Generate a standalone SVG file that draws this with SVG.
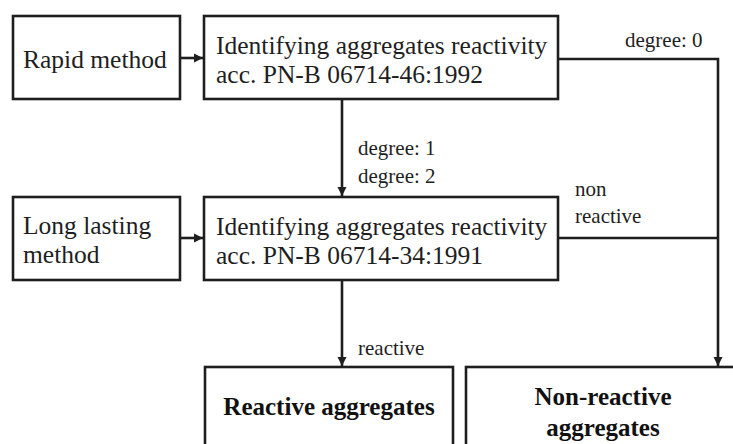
<svg xmlns="http://www.w3.org/2000/svg" width="733" height="444" viewBox="0 0 733 444">
<style>
.box{fill:#fff;stroke:#1e1e1e;stroke-width:2.6}
text{font-family:'Liberation Serif','Times New Roman','DejaVu Serif',serif}
.t{font-size:25.5px;fill:#1e1e1e}
.b{font-size:25px;font-weight:bold;fill:#111}
.s{font-size:21px;fill:#1e1e1e}
.ln{fill:none;stroke:#1e1e1e;stroke-width:2.6}
</style>
<defs>
<marker id="ah" viewBox="0 0 10 10" refX="10" refY="5" markerWidth="3.6" markerHeight="3.6" orient="auto" markerUnits="strokeWidth">
<path d="M0,0 L10,5 L0,10 Z" fill="#1e1e1e"/>
</marker>
</defs>
<rect width="733" height="444" fill="#fff"/>
<g id="connectors">
<line class="ln" x1="180" y1="58" x2="203" y2="58" marker-end="url(#ah)"/>
<line class="ln" x1="180" y1="238" x2="203" y2="238" marker-end="url(#ah)"/>
<line class="ln" x1="342" y1="99" x2="342" y2="196" marker-end="url(#ah)"/>
<line class="ln" x1="342" y1="280" x2="342" y2="366" marker-end="url(#ah)"/>
<polyline class="ln" points="558,59 718,59 718,366" marker-end="url(#ah)"/>
<line class="ln" x1="558" y1="238" x2="718" y2="238"/>
<text class="s" x="625" y="47">degree: 0</text>
<text class="s" x="358" y="155">degree: 1</text>
<text class="s" x="358" y="183">degree: 2</text>
<text class="s" x="575" y="196">non</text>
<text class="s" x="575" y="223">reactive</text>
<text class="s" x="358" y="355">reactive</text>
</g>
<g id="rapid">
<rect class="box" x="13" y="16" width="167" height="83"/>
<text class="t" x="23" y="68">Rapid method</text>
</g>
<g id="identify1992">
<rect class="box" x="204" y="16" width="354" height="83"/>
<text class="t" x="216" y="54">Identifying aggregates reactivity</text>
<text class="t" x="216" y="83">acc. PN-B 06714-46:1992</text>
</g>
<g id="longlasting">
<rect class="box" x="13" y="197" width="167" height="83"/>
<text class="t" x="23" y="234">Long lasting</text>
<text class="t" x="23" y="263">method</text>
</g>
<g id="identify1991">
<rect class="box" x="204" y="197" width="354" height="83"/>
<text class="t" x="216" y="235">Identifying aggregates reactivity</text>
<text class="t" x="216" y="264">acc. PN-B 06714-34:1991</text>
</g>
<g id="reactive">
<rect class="box" x="205" y="367" width="248" height="90"/>
<text class="b" x="329" y="415" text-anchor="middle">Reactive aggregates</text>
</g>
<g id="nonreactive">
<rect class="box" x="466" y="367" width="280" height="90"/>
<text class="b" x="603" y="405" text-anchor="middle">Non-reactive</text>
<text class="b" x="603" y="436" text-anchor="middle">aggregates</text>
</g>
</svg>
